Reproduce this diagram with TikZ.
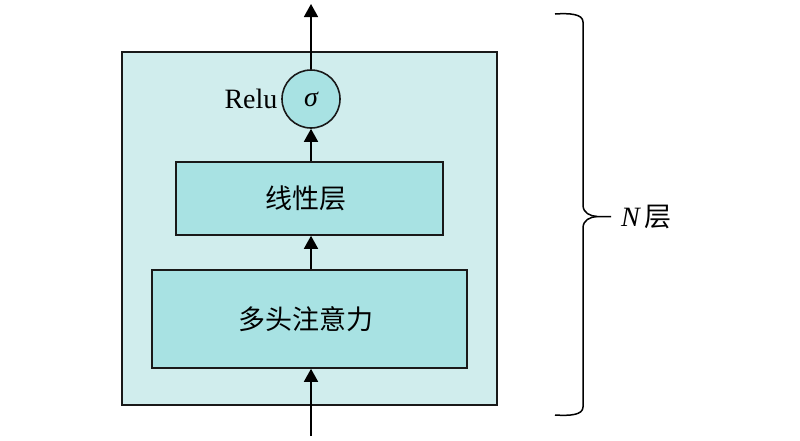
\documentclass[tikz,border=0pt]{standalone}
\usepackage{fontspec}
\setmainfont{Liberation Serif}
\newfontfamily\cjk{Noto Sans CJK SC}
\usetikzlibrary{arrows.meta}
\definecolor{outerfill}{HTML}{D0EDED}
\definecolor{innerfill}{HTML}{A8E2E3}
\begin{document}
\begin{tikzpicture}[x=1pt,y=-1pt,
  line width=1.6pt,
  box/.style={draw=black!90, fill=innerfill, inner sep=0pt},
  arr/.style={-{Triangle[length=13pt,width=14pt]}},
  cjktext/.style={font=\cjk\fontsize{27}{32}\selectfont},
  lat/.style={font=\fontsize{28}{33}\selectfont}]
\useasboundingbox (0,0) rectangle (800,440);
\node[draw=black!90, fill=outerfill, minimum width=375pt, minimum height=353pt, inner sep=0pt] (outer) at (309.5,228.5) {};
\node[box, minimum width=267pt, minimum height=73pt, cjktext] (lin) at (309.5,198.5) {\hspace*{-8pt}线性层};
\node[box, minimum width=315pt, minimum height=98pt, cjktext] (att) at (309.5,319) {\hspace*{-8pt}多头注意力};
\node[circle, draw=black!90, fill=innerfill, minimum size=58pt, inner sep=0pt, lat] (sig) at (311,99) {\itshape σ};
\node[lat, anchor=east, inner sep=3pt] (relu) at (sig.west) {Relu};
\coordinate (top) at (311,4);
\coordinate (bot) at (311,436);
\draw[arr] (sig.north) -- (top);
\draw[arr] (lin.north -| sig.south) -- (sig.south);
\draw[arr] (att.north -| sig.south) -- (lin.south -| sig.south);
\draw[arr] (bot) -- (att.south -| bot);
\draw[line width=1.5pt] (555,14) .. controls (570,13) and (583,14) .. (583,22) -- (583,205) .. controls (583,213) and (590,216) .. (597,216.5) -- (611,216.5);
\draw[line width=1.5pt] (555,415) .. controls (570,416) and (583,415) .. (583,407) -- (583,228) .. controls (583,220) and (590,217) .. (597,216.5);
\node[lat, anchor=west] (nl) at (617,217) {{\itshape N}\,{\cjk\fontsize{27}{32}\selectfont 层}};
\end{tikzpicture}
\end{document}
